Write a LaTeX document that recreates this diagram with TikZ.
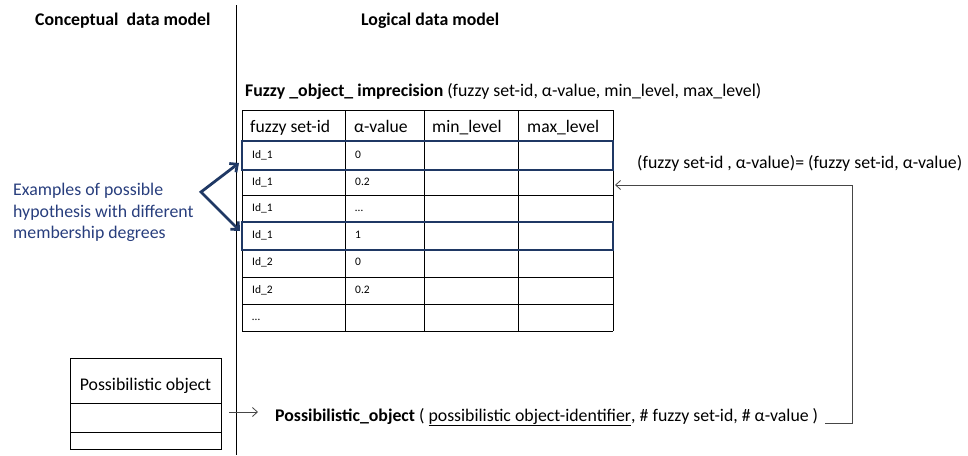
\documentclass[tikz,border=0pt]{standalone}
\usepackage{fontspec}
\setmainfont{Carlito}
\usetikzlibrary{arrows.meta}
\definecolor{navy}{RGB}{31,56,100}
\definecolor{labelblue}{RGB}{40,62,125}
\definecolor{linkgray}{RGB}{70,70,70}
\begin{document}
\begin{tikzpicture}[x=1pt,y=-1pt,
  txt/.style={inner sep=0pt, anchor=base west},
  big/.style={font=\fontsize{17.8}{21.5}\selectfont},
  head/.style={font=\fontsize{17.6}{21}\selectfont},
  small/.style={font=\fontsize{11.5}{13}\selectfont},
  grid/.style={draw=black, line width=0.8pt},
  hibox/.style={draw=navy, line width=2.8pt},
  bluearrow/.style={draw=navy, line width=2.8pt, {Straight Barb[length=6pt,width=11pt]}-{Straight Barb[length=6pt,width=11pt]}},
  link/.style={draw=linkgray, line width=0.8pt, -{Straight Barb[length=5pt,width=9pt]}}]
\useasboundingbox (0,0) rectangle (968,455);

% divider between the two models
\draw[line width=0.9pt] (236,5) -- (236,455);

% column titles
\node[txt, big] (concept) at (35,25) {\bfseries Conceptual\ \ data model};
\node[txt, big] (logical) at (361,25) {\bfseries Logical data model};

% relation schema
\node[txt, big] (schema) at (245,96) {\textbf{Fuzzy \_object\_ imprecision} (fuzzy set-id, α-value, min\_level, max\_level)};

% table grid
\foreach \y in {110,141,169,195,222,249,277,304,331}
  \draw[grid] (242,\y) -- (613,\y);
\foreach \x in {242,345,424,518,613}
  \draw[grid] (\x,110) -- (\x,331);

% header cells
\node[txt, head] (h1) at (250,132) {fuzzy set-id};
\node[txt, head] (h2) at (354,132) {α-value};
\node[txt, head] (h3) at (432,132) {min\_level};
\node[txt, head] (h4) at (527,132) {max\_level};

% data rows
\foreach \r/\y/\id/\v in {1/158/Id\_1/0, 2/185/Id\_1/0.2, 3/211/Id\_1/\ldots, 4/238/Id\_1/1, 5/265/Id\_2/0, 6/293/Id\_2/0.2}{
  \node[txt, small] (id\r) at (252,\y) {\id};
  \node[txt, small] (val\r) at (355,\y) {\v};
}
\node[txt, small] (id7) at (252,320) {\ldots};

% highlighted hypotheses
\draw[hibox] (242,141) rectangle (613,170);
\draw[hibox] (242,222) rectangle (613,250);

% explanation and its arrows
\node[txt, big, text=labelblue, align=left, anchor=north west] (hyp) at (13,183)
  {Examples of possible\\hypothesis with different\\membership degrees};
\coordinate (apex) at (201,192);
\coordinate (tipA) at (239,163);
\coordinate (tipB) at (240,231);
\draw[bluearrow] (tipA) -- (apex) -- (tipB);

% equality condition
\node[txt, big] (cond) at (637,168) {(fuzzy set-id , α-value)= (fuzzy set-id, α-value)};

% UML class
\node[draw, line width=0.8pt, minimum width=151pt, minimum height=91pt, inner sep=0pt] (cls) at (145.5,403.5) {};
\draw[line width=0.8pt] (70,403) -- (221,403);
\draw[line width=0.8pt] (70,432) -- (221,432);
\node[big] (clsname) at (145.5,386) {Possibilistic object};

% mapping arrow
\coordinate (mapA) at (229,412);
\coordinate (mapB) at (258,412);
\draw[link] (mapA) -- (mapB);

% resulting relation
\node[txt, big] (posobj) at (275,421) {\textbf{Possibilistic\_object} ( \underline{possibilistic object-identifier}, \# fuzzy set-id, \# α-value )};

% foreign key reference back to the table
\coordinate (fkStart) at (825,423);
\coordinate (fkCorner) at (852,423);
\coordinate (fkEnd) at (615,185);
\draw[link] (fkStart) -- (fkCorner) |- (fkEnd);
\end{tikzpicture}
\end{document}
